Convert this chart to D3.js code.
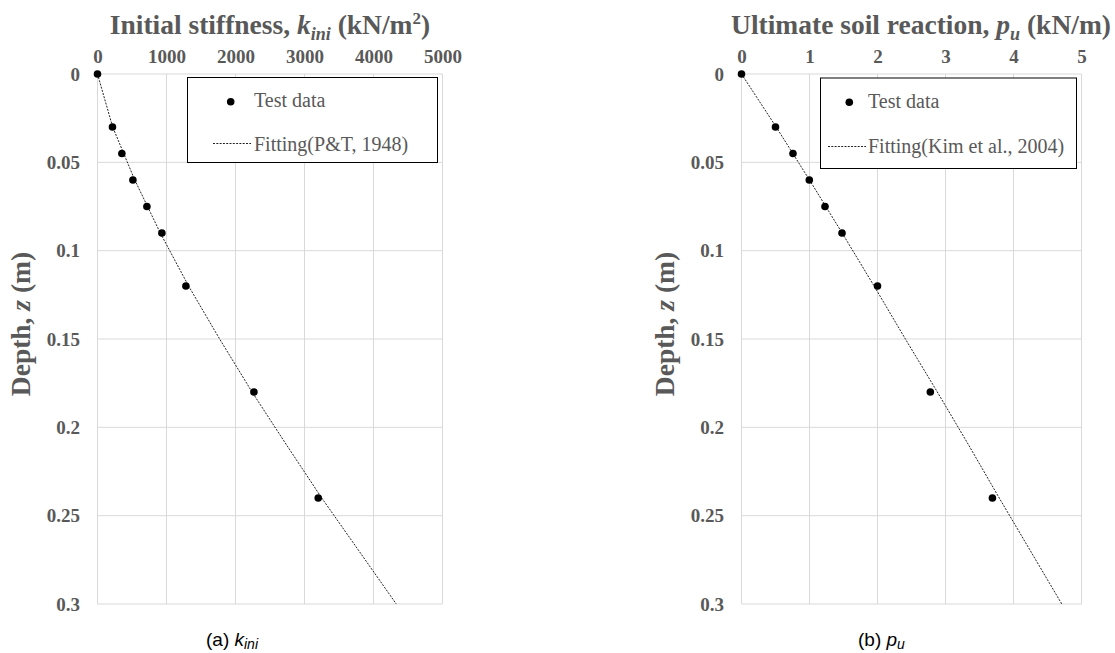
<!DOCTYPE html>
<html><head><meta charset="utf-8">
<script src="https://cdn.jsdelivr.net/npm/d3@7"></script>
<style>
html,body{margin:0;padding:0;background:#fff;}
svg{display:block;}
</style></head>
<body>
<svg id="chart" width="1115" height="653"></svg>
<script>
// ---- data ----
const depth = [0, 0.03, 0.045, 0.06, 0.075, 0.09, 0.12, 0.18, 0.24];
const kiniTest = [0, 217, 353, 513, 716, 933, 1281, 2267, 3199];
const puTest = [0, 0.50, 0.757, 0.997, 1.228, 1.478, 2.0, 2.777, 3.69];
const fitDepth = [0, 0.03, 0.06, 0.09, 0.12, 0.15, 0.18, 0.21, 0.24, 0.27, 0.3];
const kiniFit = [0, 220, 540, 910, 1320, 1770, 2240, 2740, 3250, 3790, 4330];
const puFit = [0, 0.51, 1.0, 1.48, 1.95, 2.41, 2.88, 3.34, 3.79, 4.25, 4.71];
const kiniTicks = [0, 1000, 2000, 3000, 4000, 5000];
const puTicks = [0, 1, 2, 3, 4, 5];
const depthTicks = [0, 0.05, 0.1, 0.15, 0.2, 0.25, 0.3];
const legendLabels = ["Test data", "Fitting(P&T, 1948)", "Fitting(Kim et al., 2004)"];

const svg = d3.select("#chart");
const serif = "'Liberation Serif','Times New Roman',serif";
const gray = "#595959";

function panel(o) {
  const g = svg.append("g");
  const x = d3.scaleLinear().domain(o.xDomain).range([o.x0, o.x1]);
  const y = d3.scaleLinear().domain([0, 0.3]).range([74, 604]);

  // grid
  g.append("g").selectAll("line.v").data(o.xTicks).join("line")
    .attr("x1", d => x(d)).attr("x2", d => x(d))
    .attr("y1", y(0)).attr("y2", y(0.3))
    .attr("stroke", "#d9d9d9").attr("stroke-width", 1);
  g.append("g").selectAll("line.h").data(depthTicks).join("line")
    .attr("x1", x(o.xDomain[0])).attr("x2", x(o.xDomain[1]))
    .attr("y1", d => y(d)).attr("y2", d => y(d))
    .attr("stroke", "#d9d9d9").attr("stroke-width", 1);

  // axes
  const xa = g.append("g").attr("transform", `translate(0,${y(0)})`)
    .call(d3.axisTop(x).tickValues(o.xTicks).tickSize(0).tickPadding(11).tickFormat(d3.format("d")));
  const ya = g.append("g").attr("transform", `translate(${x(0)},0)`)
    .call(d3.axisLeft(y).tickValues(depthTicks).tickSize(0).tickPadding(17.5).tickFormat(d => String(d)));
  [xa, ya].forEach(a => {
    a.select(".domain").remove();
    a.selectAll("text").attr("font-family", serif).attr("font-weight", "bold")
      .attr("font-size", "19px").attr("fill", gray);
  });

  // fit line
  const line = d3.line().x((d, i) => x(d)).y((d, i) => y(fitDepth[i]));
  g.append("path").datum(o.fit).attr("d", line)
    .attr("fill", "none").attr("stroke", "#222").attr("stroke-width", 1)
    .attr("stroke-dasharray", "2,1.3");

  // points
  g.append("g").selectAll("circle").data(o.test).join("circle")
    .attr("cx", d => x(d)).attr("cy", (d, i) => y(depth[i])).attr("r", 3.8).attr("fill", "#000");

  // title
  const t = g.append("text").attr("x", o.titleX).attr("y", 34).attr("text-anchor", "middle")
    .attr("font-family", serif).attr("font-weight", "bold").attr("font-size", "27.5px").attr("fill", gray);
  o.title(t);

  // y label
  g.append("text").attr("transform", `translate(${o.yLabX},${o.yLabY}) rotate(-90)`)
    .attr("text-anchor", "middle").attr("font-family", serif).attr("font-weight", "bold")
    .attr("font-size", "27.5px").attr("fill", gray)
    .call(s => {
      s.append("tspan").text("Depth, ");
      s.append("tspan").attr("font-style", "italic").text("z");
      s.append("tspan").text(" (m)");
    });

  // legend
  const L = o.legend;
  g.append("rect").attr("x", L.x).attr("y", L.y).attr("width", L.w).attr("height", L.h)
    .attr("fill", "#fff").attr("stroke", "#000").attr("stroke-width", 1);
  g.append("circle").attr("cx", L.dotX).attr("cy", L.dotY).attr("r", 3.8).attr("fill", "#000");
  g.append("text").attr("x", L.textX).attr("y", L.row1).attr("font-family", serif)
    .attr("font-size", "20px").attr("fill", gray).text(legendLabels[0]);
  g.append("line").attr("x1", L.lineX1).attr("x2", L.lineX2).attr("y1", L.lineY).attr("y2", L.lineY)
    .attr("stroke", "#222").attr("stroke-width", 1).attr("stroke-dasharray", "2,1.3");
  g.append("text").attr("x", L.textX2).attr("y", L.row2).attr("font-family", serif)
    .attr("font-size", "20px").attr("fill", gray).text(L.label);

  // caption
  const c = g.append("text").attr("x", o.capX).attr("y", 646)
    .attr("font-family", "'Liberation Sans',Arial,sans-serif").attr("font-size", "19px").attr("fill", "#000");
  o.caption(c);
}

panel({
  xDomain: [0, 5000], x0: 97.5, x1: 442.5, xTicks: kiniTicks,
  test: kiniTest, fit: kiniFit, titleX: 270,
  title: t => {
    t.append("tspan").text("Initial stiffness, ");
    t.append("tspan").attr("font-style", "italic").text("k");
    t.append("tspan").attr("font-style", "italic").attr("font-size", "18px").attr("dy", 6).text("ini");
    t.append("tspan").attr("dy", -6).text(" (kN/m");
    t.append("tspan").attr("font-size", "17px").attr("dy", -10).text("2");
    t.append("tspan").attr("dy", 10).text(")");
  },
  yLabX: 30, yLabY: 324,
  legend: { x: 187.5, y: 77.5, w: 250, h: 85, dotX: 230.7, dotY: 101.7, textX: 254, row1: 107,
    lineX1: 213, lineX2: 251, lineY: 143.5, textX2: 254, row2: 151, label: legendLabels[1] },
  capX: 206,
  caption: c => {
    c.append("tspan").text("(a)  ");
    c.append("tspan").attr("font-style", "italic").text("k");
    c.append("tspan").attr("font-style", "italic").attr("font-size", "14px").attr("dy", 3).text("ini");
  }
});

panel({
  xDomain: [0, 5], x0: 741.5, x1: 1081.5, xTicks: puTicks,
  test: puTest, fit: puFit, titleX: 921,
  title: t => {
    t.append("tspan").text("Ultimate soil reaction, ");
    t.append("tspan").attr("font-style", "italic").text("p");
    t.append("tspan").attr("font-style", "italic").attr("font-size", "18px").attr("dy", 6).text("u");
    t.append("tspan").attr("dy", -6).text(" (kN/m)");
  },
  yLabX: 674, yLabY: 324,
  legend: { x: 820.5, y: 78, w: 256, h: 90.5, dotX: 849.3, dotY: 102.3, textX: 868, row1: 107.5,
    lineX1: 828, lineX2: 866, lineY: 146.5, textX2: 868, row2: 153, label: legendLabels[2] },
  capX: 858,
  caption: c => {
    c.append("tspan").text("(b)  ");
    c.append("tspan").attr("font-style", "italic").text("p");
    c.append("tspan").attr("font-style", "italic").attr("font-size", "14px").attr("dy", 3).text("u");
  }
});
</script>
</body></html>
